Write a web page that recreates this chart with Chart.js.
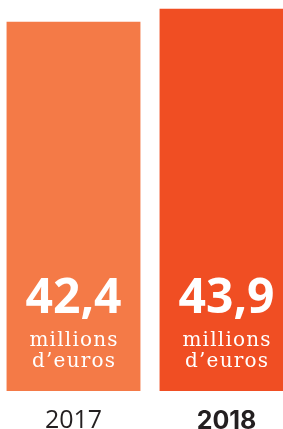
<!DOCTYPE html>
<html>
<head>
<meta charset="utf-8">
<script src="https://cdn.jsdelivr.net/npm/chart.js@4/dist/chart.umd.min.js"></script>
<style>
  html, body { margin: 0; padding: 0; background: #ffffff; overflow: hidden; width: 283px; height: 429px; }
  #wrap { position: absolute; left: -3px; top: 0; width: 306px; height: 429px; }
</style>
</head>
<body>
<div id="wrap"><canvas id="c" width="306" height="429"></canvas></div>
<script>
const categories = ['2017', '2018'];
const values = [42.4, 43.9];
const valueLabels = ['42,4', '43,9'];
const unitLines = ['millions', 'd\u2019euros'];
const barColors = ['#F47A47', '#F04E23'];
const boldIndex = 1;

const barLabels = {
  id: 'barLabels',
  afterDatasetsDraw(chart) {
    const ctx = chart.ctx;
    const meta = chart.getDatasetMeta(0);
    ctx.save();
    ctx.fillStyle = '#ffffff';
    ctx.textAlign = 'center';
    ctx.textBaseline = 'alphabetic';
    meta.data.forEach((el, i) => {
      const x = el.x;
      const base = el.base;
      ctx.letterSpacing = '0px';
      ctx.font = '700 48px "Open Sans"';
      ctx.fillText(valueLabels[i], x, base - 78);
      ctx.font = '400 20px "DejaVu Serif"';
      ctx.letterSpacing = '1.2px';
      ctx.fillText(unitLines[0], x + 0.6, base - 45);
      ctx.fillText(unitLines[1], x + 0.6, base - 24);
    });
    ctx.restore();
  }
};

new Chart(document.getElementById('c'), {
  type: 'bar',
  data: {
    labels: categories,
    datasets: [{
      data: values,
      backgroundColor: barColors,
      borderWidth: 0,
      barPercentage: 0.875,
      categoryPercentage: 1.0
    }]
  },
  options: {
    responsive: false,
    animation: false,
    devicePixelRatio: 1,
    layout: { padding: 0 },
    plugins: { legend: { display: false }, tooltip: { enabled: false } },
    scales: {
      x: {
        offset: true,
        grid: { display: false, drawTicks: false },
        border: { display: false },
        afterFit: (scale) => { scale.height = 38; },
        ticks: {
          autoSkip: false,
          maxRotation: 0,
          padding: 15,
          color: '#231F20',
          font: (ctx) => ctx.index === boldIndex
            ? { family: 'Inter', size: 25, weight: '700', lineHeight: 1.2 }
            : { family: '"Open Sans"', size: 25, weight: '400', lineHeight: 1.2 }
        }
      },
      y: { display: false, min: 0, max: 44.9 }
    }
  },
  plugins: [barLabels]
});
</script>
</body>
</html>
